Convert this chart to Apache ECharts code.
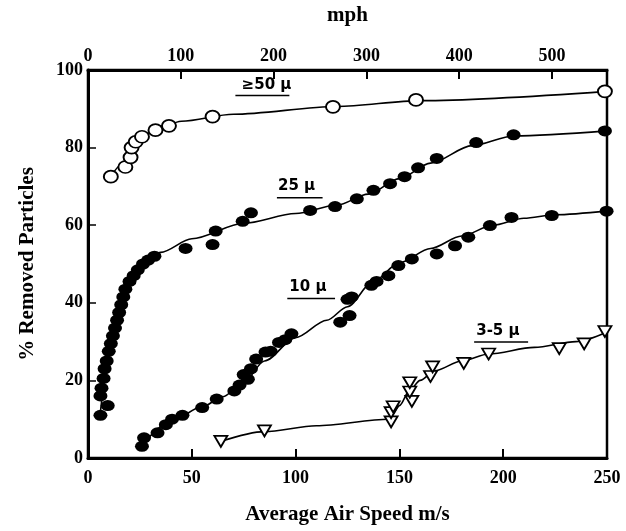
<!DOCTYPE html>
<html><head><meta charset="utf-8">
<script src="https://cdn.jsdelivr.net/npm/echarts/dist/echarts.min.js"></script>
<style>html,body{margin:0;padding:0;background:#fff}#c{width:626px;height:531px}</style>
</head><body><div id="c"></div>
<script>
// ---- data (x = average air speed m/s, y = % removed particles) ----
const MPH_PER_MS = 2.23694;
const yTicks = [0, 20, 40, 60, 80, 100];
const xTicksMs = [0, 50, 100, 150, 200, 250];
const xTicksMph = [0, 100, 200, 300, 400, 500];

const pts50 = [[11,72.5],[18,75],[20.5,77.5],[21,80],[23,81.5],[26,82.8],[32.5,84.5],[39,85.6],[60,88],[118,90.5],[158,92.3],[249,94.5]];
const fit50 = [[11,72.5],[16,75.5],[20,78.5],[25,82],[32,84.5],[45,86.8],[70,88.6],[120,90.6],[160,92.1],[250,94.5]];

const pts25 = [[6,11],[9.5,13.5],[6,16],[6.5,18],[7.5,20.5],[8,23],[9,25],[10,27.5],[11,29.5],[12,31.5],[13,33.5],[14,35.5],[15,37.5],[16,39.5],[17,41.5],[18,43.5],[20,45.5],[22,47],[24,48.5],[26.5,50],[29,51],[32,52],[47,54],[60,55],[61.5,58.5],[74.5,61],[78.5,63.2],[107,63.8],[119,64.8],[129.5,66.8],[137.5,69],[145.5,70.7],[152.5,72.5],[159,74.8],[168,77.2],[187,81.3],[205,83.3],[249,84.3]];
const fit25 = [[6,12],[9,22],[12,31],[15,38],[18,43],[22,47],[28,50.5],[35,53],[50,56.5],[75,60.5],[100,63],[120,65.2],[135,68],[150,72],[165,76],[185,80.5],[205,83],[250,84.3]];

const pts10 = [[26,3],[27,5.2],[33.5,6.5],[37.5,8.6],[40.5,10],[45.5,11],[55,13],[62,15.2],[70.5,17.3],[73,18.8],[75,21.5],[77,20.3],[78.5,23],[81,25.5],[85.5,27.3],[88,27.5],[92,29.8],[95,30.5],[98,32],[121.5,35],[126,36.7],[125,40.9],[127,41.5],[136.5,44.5],[139,45.5],[144.7,47],[149.5,49.6],[156,51.3],[168,52.6],[176.8,54.7],[183.2,56.9],[193.6,59.9],[204,62],[223.4,62.5],[249.8,63.6]];
const fit10 = [[27,4],[40,9.5],[55,13.2],[65,15.8],[75,19.5],[85,25],[100,31],[115,35.5],[125,39],[137,45.3],[150,50.3],[165,54],[180,57.2],[195,60],[210,61.8],[225,62.7],[250,63.7]];

const pts35 = [[64,4.3],[85,7],[146,9.3],[146,11.7],[147,13.2],[156,14.6],[155,17],[155,19.4],[165,21],[166,23.5],[181,24.4],[193,26.8],[227,28.2],[239,29.4],[249,32.6]];
const fit35 = [[64,4.3],[85,6.8],[110,8.3],[145,10],[150,13.5],[155,17.5],[160,20],[167,22.5],[180,25],[193,26.8],[215,28.5],[235,30],[250,32.5]];

const labelTexts = ['≥50 μ', '25 μ', '10 μ', '3-5 μ'];

// ---- layout of the curve labels (data coordinates) ----
const labelLayout = [
  {at:[74,96], line:[[71,93.4],[97,93.4]]},
  {at:[91.5,70], line:[[91,67.1],[113,67.1]]},
  {at:[97,44], line:[[96,41.1],[119,41.1]]},
  {at:[187,32.6], line:[[186,29.9],[212,29.9]]}
];

const FONT = 'Liberation Serif';
const chart = echarts.init(document.getElementById('c'), null, {renderer:'canvas'});

function lineSeries(d){
  return {type:'line', data:d, smooth:0.3, smoothMonotone:'x', showSymbol:false, silent:true,
    lineStyle:{color:'#000', width:1.6}, z:2};
}
const filled = {color:'#000', opacity:1};
const open = {color:'#fff', borderColor:'#000', borderWidth:1.8, opacity:1};

chart.setOption({
  animation:false,
  backgroundColor:'#fff',
  grid:{left:88, right:19, top:70, bottom:73, show:true, borderColor:'#000', borderWidth:2.5, backgroundColor:'transparent'},
  xAxis:[
    {type:'value', position:'bottom', min:xTicksMs[0], max:xTicksMs[xTicksMs.length-1], interval:50,
     axisLine:{show:true, lineStyle:{color:'#000', width:3}},
     axisTick:{show:true, inside:true, length:9, lineStyle:{color:'#000', width:2}},
     axisLabel:{color:'#000', fontFamily:FONT, fontWeight:'bold', fontSize:18, margin:11},
     splitLine:{show:false},
     name:'Average Air Speed m/s', nameLocation:'middle', nameGap:46,
     nameTextStyle:{color:'#000', fontFamily:FONT, fontWeight:'bold', fontSize:21}},
    {type:'value', position:'top', min:xTicksMph[0], max:xTicksMs[xTicksMs.length-1]*MPH_PER_MS, interval:100,
     axisLine:{show:true, lineStyle:{color:'#000', width:3}},
     axisTick:{show:true, inside:true, length:9, lineStyle:{color:'#000', width:2}},
     axisLabel:{color:'#000', fontFamily:FONT, fontWeight:'bold', fontSize:18, margin:5, showMaxLabel:false},
     splitLine:{show:false},
     name:'mph', nameLocation:'middle', nameGap:44,
     nameTextStyle:{color:'#000', fontFamily:FONT, fontWeight:'bold', fontSize:21}}
  ],
  yAxis:{type:'value', min:yTicks[0], max:yTicks[yTicks.length-1], interval:20,
     axisLine:{show:true, lineStyle:{color:'#000', width:3}},
     axisTick:{show:true, inside:true, length:8, lineStyle:{color:'#000', width:1.5}},
     axisLabel:{color:'#000', fontFamily:FONT, fontWeight:'bold', fontSize:18, margin:5},
     splitLine:{show:false},
     name:'% Removed Particles', nameLocation:'middle', nameGap:50, nameRotate:90,
     nameTextStyle:{color:'#000', fontFamily:FONT, fontWeight:'bold', fontSize:21}},
  series:[
    lineSeries(fit50), lineSeries(fit25), lineSeries(fit10), lineSeries(fit35),
    {type:'scatter', data:pts50, symbol:'circle', symbolSize:[14,12], itemStyle:open, z:3},
    {type:'scatter', data:pts25, symbol:'circle', symbolSize:[14,11], itemStyle:filled, z:3},
    {type:'scatter', data:pts10, symbol:'circle', symbolSize:[14,11], itemStyle:filled, z:3},
    {type:'scatter', data:pts35, symbol:'triangle', symbolRotate:180, symbolSize:[13,11], itemStyle:open, z:3}
  ]
});

const g = [];
labelLayout.forEach((l, i) => {
  const p = chart.convertToPixel({xAxisIndex:0, yAxisIndex:0}, l.at);
  const a = chart.convertToPixel({xAxisIndex:0, yAxisIndex:0}, l.line[0]);
  const b = chart.convertToPixel({xAxisIndex:0, yAxisIndex:0}, l.line[1]);
  g.push({type:'text', x:p[0], y:p[1], z:10,
    style:{text:labelTexts[i], fill:'#000', font:'bold 15px "DejaVu Sans"', verticalAlign:'middle', textVerticalAlign:'middle'}});
  g.push({type:'line', z:10, shape:{x1:a[0], y1:a[1], x2:b[0], y2:b[1]}, style:{stroke:'#000', lineWidth:1.5}});
});
chart.setOption({graphic:g});
</script></body></html>
